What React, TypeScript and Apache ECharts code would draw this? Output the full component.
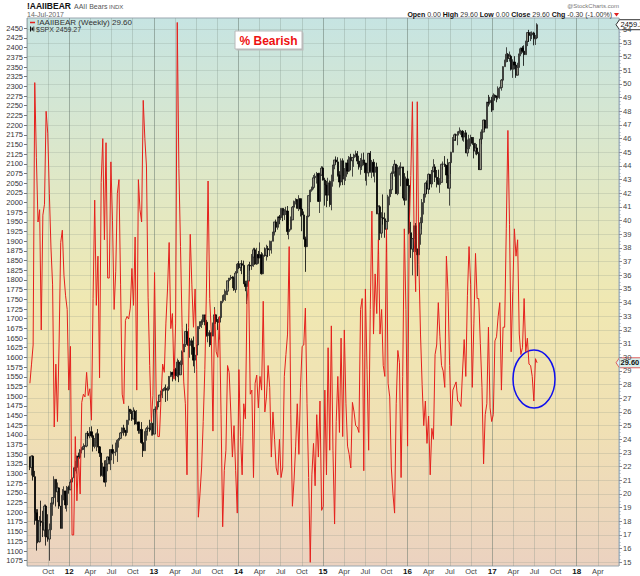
import React, { useEffect, useRef } from "react";
import * as echarts from "echarts";

// ---- data ----
// weekly observations, first week ending 2011-07-15
const startYear = 2011;
const startMonthIndex = 6;
const startDay = 15;

const aaiiBearish = [
  28.1, 29.5, 30.9, 50.1, 44.6, 39.9, 40.8, 32.0, 40.4, 41.2,
  48.0, 46.4, 42.0, 38.0, 35.3, 24.9, 29.5, 25.3, 31.0, 38.4,
  39.3, 36.0, 34.5, 33.5, 27.6, 30.8, 17.0, 17.0, 24.2, 19.5,
  22.7, 20.0, 26.7, 27.3, 27.1, 28.9, 27.2, 27.7, 25.4, 34.3,
  41.5, 33.8, 37.4, 28.5, 42.8, 46.0, 38.6, 45.7, 35.8, 35.8,
  44.3, 40.0, 33.5, 36.3, 42.0, 43.0, 35.3, 27.3, 26.6, 32.7,
  33.0, 32.8, 33.6, 36.5, 33.8, 38.8, 27.6, 43.0, 40.8, 39.9,
  48.8, 46.0, 44.0, 34.4, 29.4, 25.3, 27.2, 36.2, 27.1, 24.2,
  24.2, 27.0, 29.5, 28.9, 32.5, 35.0, 38.4, 32.1, 33.2, 28.4,
  32.5, 54.5, 43.8, 38.1, 32.2, 28.2, 26.6, 21.4, 32.2, 39.0,
  35.3, 32.2, 35.0, 29.1, 18.3, 20.0, 21.9, 25.3, 29.1, 35.0,
  42.9, 34.3, 31.8, 24.6, 33.5, 30.4, 30.0, 33.0, 25.8, 17.6,
  21.7, 23.2, 29.4, 28.9, 26.0, 22.7, 25.0, 21.7, 18.6, 29.1,
  24.2, 21.4, 26.6, 25.5, 34.1, 35.6, 27.3, 27.6, 21.2, 28.1,
  28.7, 26.3, 28.6, 27.6, 34.1, 26.0, 27.1, 29.4, 27.8, 22.7,
  26.0, 24.0, 21.9, 21.4, 24.0, 21.2, 21.9, 28.6, 30.2, 31.7,
  38.1, 25.8, 19.1, 21.0, 23.5, 26.6, 22.9, 27.8, 30.8, 30.9,
  33.6, 26.6, 21.2, 15.0, 21.4, 23.7, 20.6, 25.8, 22.7, 26.8,
  18.8, 19.1, 27.6, 21.4, 30.7, 23.2, 32.3, 23.2, 17.8, 25.3,
  28.6, 24.5, 31.4, 24.2, 32.0, 26.6, 23.5, 22.9, 21.9, 26.7,
  26.0, 25.0, 24.9, 24.5, 33.5, 34.3, 21.7, 35.0, 29.1, 23.2,
  33.5, 40.7, 31.7, 36.1, 33.2, 38.6, 31.7, 33.5, 29.4, 28.6,
  39.4, 28.1, 27.1, 21.9, 20.0, 18.6, 26.6, 30.5, 29.6, 21.2,
  28.6, 39.4, 33.5, 23.5, 39.4, 43.3, 48.7, 39.4, 34.8, 48.7,
  36.8, 31.7, 28.0, 25.0, 26.8, 23.7, 25.7, 21.4, 24.8, 24.0,
  30.2, 30.9, 34.0, 31.5, 29.4, 29.0, 27.8, 37.4, 34.8, 29.4,
  25.0, 27.6, 27.9, 28.2, 26.8, 26.7, 26.4, 29.0, 31.3, 28.6,
  34.5, 38.1, 35.3, 27.8, 32.5, 37.6, 34.3, 34.3, 31.0, 27.8,
  22.2, 25.8, 26.6, 32.2, 26.3, 25.3, 25.8, 31.2, 31.5, 33.0,
  34.0, 27.6, 32.2, 32.2, 39.4, 46.6, 39.7, 30.4, 34.8, 39.4,
  37.4, 38.6, 31.7, 30.2, 30.7, 34.3, 30.4, 31.4, 29.5, 29.4,
  28.6, 26.8, 29.9, 29.6,
];

const spxFirstOpen = 1343;

const spxClose = [
  // 2011
  1316, 1345, 1292, 1199, 1179, 1124, 1177, 1174, 1154, 1216, 1136, 1131, 1155, 1224, 1238, 1285, 1253, 1263, 1216, 1159, 1244, 1255, 1219, 1265, 1258,
  // 2012
  1278, 1289, 1315, 1316, 1345, 1342, 1361, 1366, 1370, 1371, 1404, 1397, 1408, 1398, 1370, 1378, 1403, 1369, 1353, 1295, 1317, 1278, 1325, 1343, 1335, 1362,
  1354, 1356, 1362, 1386, 1391, 1405, 1418, 1411, 1406, 1438, 1466, 1460, 1441, 1461, 1428, 1433, 1411, 1414, 1380, 1359, 1409, 1416, 1418, 1413, 1430, 1402,
  // 2013
  1466, 1472, 1486, 1503, 1513, 1518, 1520, 1516, 1518, 1551, 1561, 1556, 1569, 1553, 1588, 1555, 1582, 1614, 1633, 1667, 1650, 1631, 1643, 1626, 1593, 1606,
  1632, 1680, 1692, 1692, 1710, 1691, 1656, 1664, 1633, 1655, 1688, 1710, 1692, 1691, 1703, 1745, 1760, 1762, 1771, 1798, 1805, 1806, 1805, 1775, 1818, 1841,
  // 2014
  1832, 1842, 1838, 1790, 1783, 1797, 1838, 1836, 1859, 1878, 1841, 1866, 1857, 1865, 1816, 1864, 1863, 1881, 1878, 1878, 1900, 1924, 1950, 1936, 1963, 1961,
  1985, 1968, 1978, 1978, 1925, 1931, 1955, 1988, 2003, 2008, 1985, 2010, 1983, 1968, 1906, 1886, 1965, 2018, 2032, 2039, 2064, 2068, 2075, 2003, 2071, 2089,
  // 2015
  2058, 2045, 2019, 2051, 1995, 2055, 2097, 2110, 2105, 2071, 2053, 2108, 2061, 2067, 2102, 2081, 2117, 2108, 2116, 2123, 2126, 2107, 2092, 2095, 2110, 2102,
  2077, 2077, 2127, 2080, 2104, 2078, 2092, 1971, 1989, 1921, 1961, 1958, 1931, 1951, 2015, 2033, 2075, 2079, 2099, 2023, 2089, 2090, 2092, 2012, 2006, 2061, 2044,
  // 2016
  1922, 1880, 1907, 1940, 1880, 1865, 1918, 1948, 2000, 2022, 2050, 2035, 2073, 2048, 2081, 2092, 2065, 2057, 2047, 2052, 2099, 2099, 2096, 2071, 2037, 2103,
  2130, 2162, 2175, 2174, 2183, 2184, 2184, 2169, 2180, 2128, 2139, 2165, 2168, 2153, 2133, 2141, 2126, 2085, 2164, 2182, 2213, 2192, 2259, 2258, 2264, 2239,
  // 2017
  2277, 2275, 2271, 2295, 2297, 2316, 2351, 2367, 2383, 2372, 2378, 2344, 2363, 2355, 2329, 2349, 2384, 2399, 2391, 2382, 2416, 2439, 2432, 2433, 2438, 2423,
  2425, 2459.27,
];

const spxLow = [
  // 2011
  1309, 1295, 1282, 1168, 1101, 1120, 1122, 1164, 1136, 1137, 1114, 1124, 1075, 1156, 1191, 1220, 1215, 1226, 1209, 1158, 1158, 1231, 1209, 1202, 1248,
  // 2012
  1259, 1275, 1290, 1306, 1300, 1336, 1338, 1352, 1361, 1341, 1368, 1390, 1391, 1393, 1357, 1365, 1358, 1368, 1343, 1292, 1292, 1277, 1266, 1306, 1324, 1309,
  1350, 1325, 1346, 1330, 1367, 1389, 1397, 1398, 1396, 1398, 1426, 1454, 1436, 1440, 1426, 1427, 1403, 1403, 1377, 1343, 1359, 1385, 1398, 1408, 1398, 1398,
  // 2013
  1402, 1456, 1465, 1485, 1496, 1495, 1514, 1485, 1488, 1514, 1549, 1538, 1548, 1540, 1549, 1536, 1555, 1577, 1614, 1627, 1635, 1630, 1599, 1607, 1577, 1560,
  1605, 1632, 1673, 1676, 1684, 1683, 1654, 1639, 1627, 1633, 1655, 1689, 1687, 1671, 1646, 1700, 1740, 1748, 1746, 1761, 1780, 1800, 1779, 1772, 1767, 1819,
  // 2014
  1828, 1823, 1815, 1790, 1771, 1738, 1791, 1824, 1826, 1834, 1839, 1839, 1842, 1858, 1814, 1816, 1860, 1850, 1859, 1862, 1868, 1900, 1915, 1925, 1930, 1944,
  1955, 1952, 1955, 1968, 1916, 1905, 1928, 1955, 1990, 1995, 1984, 1978, 1964, 1926, 1905, 1821, 1886, 1962, 2001, 2028, 2034, 2060, 2049, 2002, 1973, 2069,
  // 2015
  2057, 1992, 1988, 2004, 1989, 1980, 2041, 2086, 2101, 2067, 2039, 2044, 2045, 2045, 2056, 2073, 2080, 2083, 2067, 2092, 2117, 2099, 2085, 2072, 2084, 2096,
  2056, 2044, 2067, 2077, 2063, 2067, 2052, 1970, 1867, 1903, 1909, 1943, 1909, 1872, 1951, 1993, 2022, 2059, 2067, 2022, 2019, 2070, 2042, 2011, 1993, 2005, 2043,
  // 2016
  1918, 1857, 1812, 1872, 1872, 1810, 1865, 1891, 1931, 1969, 2013, 2022, 2022, 2033, 2039, 2078, 2053, 2039, 2045, 2025, 2052, 2085, 2092, 2050, 2037, 1992,
  2074, 2131, 2159, 2159, 2148, 2178, 2175, 2160, 2157, 2128, 2119, 2139, 2145, 2149, 2114, 2124, 2122, 2084, 2084, 2151, 2183, 2187, 2192, 2248, 2253, 2234,
  // 2017
  2239, 2263, 2259, 2266, 2268, 2289, 2313, 2352, 2362, 2363, 2364, 2341, 2322, 2344, 2322, 2328, 2349, 2378, 2387, 2353, 2382, 2404, 2415, 2417, 2422, 2406,
  2407, 2425,
];

const spxHigh = [
  // 2011
  1344, 1347, 1347, 1307, 1208, 1208, 1190, 1230, 1204, 1220, 1220, 1195, 1171, 1224, 1239, 1293, 1285, 1277, 1264, 1208, 1260, 1267, 1255, 1268, 1269,
  // 2012
  1285, 1296, 1315, 1333, 1346, 1354, 1363, 1368, 1378, 1374, 1405, 1410, 1420, 1422, 1399, 1392, 1406, 1415, 1371, 1355, 1328, 1334, 1335, 1344, 1363, 1363,
  1375, 1357, 1380, 1389, 1392, 1407, 1419, 1426, 1413, 1438, 1475, 1467, 1465, 1471, 1465, 1464, 1434, 1434, 1433, 1388, 1409, 1420, 1424, 1439, 1448, 1430,
  // 2013
  1467, 1473, 1486, 1503, 1514, 1518, 1524, 1530, 1525, 1552, 1564, 1563, 1570, 1573, 1597, 1593, 1592, 1618, 1635, 1667, 1687, 1674, 1646, 1649, 1654, 1620,
  1632, 1680, 1693, 1698, 1710, 1709, 1697, 1669, 1670, 1665, 1690, 1730, 1711, 1699, 1704, 1745, 1760, 1776, 1772, 1798, 1805, 1813, 1810, 1809, 1823, 1844,
  // 2014
  1849, 1843, 1851, 1850, 1798, 1798, 1841, 1847, 1867, 1883, 1883, 1883, 1875, 1897, 1872, 1869, 1884, 1891, 1888, 1902, 1901, 1924, 1950, 1956, 1963, 1968,
  1985, 1985, 1983, 1989, 1991, 1942, 1964, 1991, 2005, 2011, 2008, 2019, 2010, 1986, 1977, 1912, 1965, 2018, 2034, 2041, 2071, 2075, 2079, 2077, 2077, 2094,
  // 2015
  2093, 2064, 2056, 2064, 2057, 2072, 2097, 2110, 2119, 2117, 2081, 2114, 2114, 2089, 2103, 2111, 2120, 2126, 2117, 2126, 2134, 2133, 2121, 2115, 2127, 2129,
  2102, 2083, 2128, 2133, 2110, 2112, 2102, 2103, 1993, 1993, 1975, 2021, 1974, 1953, 2020, 2034, 2080, 2094, 2110, 2093, 2097, 2095, 2104, 2081, 2076, 2067, 2082,
  // 2016
  2038, 1950, 1908, 1940, 1947, 1881, 1930, 1962, 2009, 2022, 2052, 2057, 2075, 2073, 2084, 2112, 2099, 2084, 2085, 2063, 2100, 2106, 2120, 2092, 2113, 2104,
  2131, 2169, 2178, 2178, 2183, 2194, 2188, 2187, 2184, 2187, 2163, 2175, 2175, 2169, 2169, 2154, 2151, 2131, 2183, 2189, 2214, 2214, 2260, 2278, 2273, 2273,
  // 2017
  2282, 2279, 2276, 2300, 2299, 2319, 2352, 2369, 2401, 2386, 2390, 2382, 2370, 2378, 2358, 2361, 2398, 2400, 2404, 2406, 2418, 2440, 2446, 2441, 2442, 2441,
  2433, 2463,
];

const quarterLabels = ["", "Apr", "Jul", "Oct"];
const xMin = 2011.5;
const xMax = 2018.5;
const spxMin = 1075;
const spxMax = 2450;
const aaiiMin = 15;
const aaiiMax = 54;

const FONT = '"Liberation Sans", Arial, sans-serif';

function weekDate(i: number) {
  return new Date(Date.UTC(startYear, startMonthIndex, startDay + 7 * i));
}
function yearFrac(d: Date) {
  const y = d.getUTCFullYear();
  const s = Date.UTC(y, 0, 1);
  const e = Date.UTC(y + 1, 0, 1);
  return y + (d.getTime() - s) / (e - s);
}

export default function App() {
  const ref = useRef<HTMLDivElement>(null);

  useEffect(() => {
    if (!ref.current) return;
    document.body.style.margin = "0";
    const chart = echarts.init(ref.current, null, { renderer: "svg" });

    const xs = aaiiBearish.map((_, i) => yearFrac(weekDate(i)));
    const lineData = aaiiBearish.map((v, i) => [xs[i], v]);
    const candleData = spxClose.map((c, i) => {
      const o = i === 0 ? spxFirstOpen : spxClose[i - 1];
      const lo = Math.min(spxLow[i], o, c);
      const hi = Math.max(spxHigh[i], o, c);
      return [xs[i], o, c, lo, hi];
    });

    const bg = new echarts.graphic.LinearGradient(0, 0, 0, 1, [
      { offset: 0, color: "rgb(198,228,226)" },
      { offset: 0.3, color: "rgb(224,232,198)" },
      { offset: 0.52, color: "rgb(240,232,178)" },
      { offset: 0.75, color: "rgb(240,224,180)" },
      { offset: 1, color: "rgb(235,210,192)" },
    ]);

    const hiddenX = (gridIndex: number) => ({
      type: "value",
      gridIndex,
      min: xMin,
      max: xMax,
      show: false,
    });

    const option: any = {
      animation: false,
      backgroundColor: "#ffffff",
      textStyle: { fontFamily: FONT },
      grid: [
        {
          left: 27, right: 21, top: 18, bottom: 10,
          show: true, backgroundColor: bg, borderColor: "#9aa7b0", borderWidth: 1,
        },
        { left: 27, right: 21, top: 28.3, bottom: 15.3 },
        { left: 27, right: 21, top: 29.3, bottom: 13.7 },
      ],
      xAxis: [
        {
          type: "value",
          gridIndex: 0,
          min: xMin,
          max: xMax,
          interval: 0.25,
          axisLine: { show: false },
          axisTick: { show: false },
          axisLabel: {
            showMinLabel: false,
            showMaxLabel: false,
            margin: 1,
            fontSize: 7.5,
            color: "#444",
            fontFamily: FONT,
            formatter: (v: number) => {
              const y = Math.floor(v + 1e-6);
              const q = Math.round((v - y) * 4) % 4;
              if (q === 0) return "{y|" + String(y).slice(2) + "}";
              return quarterLabels[q];
            },
            rich: { y: { fontWeight: "bold", color: "#111", fontSize: 8, fontFamily: FONT } },
          },
          splitLine: {
            show: true,
            lineStyle: {
              width: 1,
              color: [
                "rgba(120,135,125,0.28)",
                "rgba(120,135,125,0.28)",
                "rgba(100,115,105,0.5)",
                "rgba(120,135,125,0.28)",
              ],
            },
          },
        },
        hiddenX(1),
        hiddenX(2),
      ],
      yAxis: [
        { type: "value", gridIndex: 0, min: 0, max: 1, show: false },
        {
          type: "value",
          gridIndex: 1,
          position: "left",
          min: spxMin,
          max: spxMax,
          interval: 25,
          axisLine: { show: false },
          axisTick: { show: true, length: 3, lineStyle: { color: "#777" } },
          axisLabel: {
            fontSize: 7.5, color: "#333", margin: 4, fontFamily: FONT,
            formatter: (v: number) => String(v),
          },
          splitLine: { show: false },
        },
        {
          type: "value",
          gridIndex: 2,
          position: "right",
          min: aaiiMin,
          max: aaiiMax,
          interval: 1,
          axisLine: { show: true, lineStyle: { color: "#a9bcc8" } },
          axisTick: { show: true, length: 3, lineStyle: { color: "#889" } },
          minorTick: { show: true, splitNumber: 4, length: 1.5, lineStyle: { color: "#9ab" } },
          axisLabel: {
            fontSize: 7.5, color: "#444", margin: 4, fontFamily: FONT,
            formatter: (v: number) => String(v),
          },
          splitLine: { show: true, lineStyle: { color: "rgba(120,135,125,0.2)", width: 1 } },
        },
      ],
      series: [
        {
          type: "candlestick",
          name: "$SPX",
          xAxisIndex: 1,
          yAxisIndex: 1,
          clip: false,
          barWidth: 1.8,
          encode: { x: 0, y: [1, 2, 3, 4] },
          data: candleData,
          z: 2,
          itemStyle: {
            color: "#8f8f80",
            color0: "#000000",
            borderColor: "#222222",
            borderColor0: "#000000",
            borderWidth: 0.8,
          },
        },
        {
          type: "line",
          name: "!AAIIBEAR",
          xAxisIndex: 2,
          yAxisIndex: 2,
          clip: false,
          data: lineData,
          showSymbol: false,
          symbol: "none",
          z: 3,
          lineStyle: { color: "#e5201c", width: 1 },
        },
      ],
    };

    chart.setOption(option);

    const lastAaii = aaiiBearish[aaiiBearish.length - 1];
    const prevAaii = aaiiBearish[aaiiBearish.length - 2];
    const lastSpx = spxClose[spxClose.length - 1];
    const chg = lastAaii - prevAaii;
    const chgPct = (chg / prevAaii) * 100;
    const yA = chart.convertToPixel({ yAxisIndex: 2 }, lastAaii) as number;
    const yS = chart.convertToPixel({ yAxisIndex: 1 }, lastSpx) as number;

    const badge = (y: number, text: string, stroke: string, fill: string, bold: boolean) => ({
      type: "group",
      z: 10,
      children: [
        {
          type: "polygon",
          shape: { points: [[616, y], [619.5, y - 5], [642, y - 5], [642, y + 5], [619.5, y + 5]] },
          style: { fill, stroke, lineWidth: 1 },
        },
        {
          type: "text",
          x: 620.5,
          y: y,
          style: {
            text, fill: "#111", font: (bold ? "bold " : "") + "7.5px " + FONT,
            textAlign: "left", textVerticalAlign: "middle",
          },
        },
      ],
    });

    chart.setOption({
      graphic: [
        { type: "text", x: 27, y: 6, style: { text: "!AAIIBEAR", font: "bold 8.5px " + FONT, fill: "#111", textVerticalAlign: "middle" } },
        { type: "text", x: 74, y: 6, style: { text: "AAII Bears", font: "7px " + FONT, fill: "#555", textVerticalAlign: "middle" } },
        { type: "text", x: 109, y: 6.5, style: { text: "INDX", font: "6px " + FONT, fill: "#555", textVerticalAlign: "middle" } },
        { type: "text", x: 27, y: 14.5, style: { text: "14-Jul-2017", font: "7px " + FONT, fill: "#666", textVerticalAlign: "middle" } },
        { type: "text", x: 619, y: 5.5, style: { text: "@StockCharts.com", font: "6px " + FONT, fill: "#777", textAlign: "right", textVerticalAlign: "middle" } },
        {
          type: "text", x: 612, y: 14.5,
          style: {
            text:
              "{b|Open} " + (0).toFixed(2) + " {b|High} " + lastAaii.toFixed(2) + " {b|Low} " + (0).toFixed(2) +
              " {b|Close} " + lastAaii.toFixed(2) + " {b|Chg} " + chg.toFixed(2) + " (" + chgPct.toFixed(2) + "%)",
            font: "7px " + FONT, fill: "#333", textAlign: "right", textVerticalAlign: "middle",
            rich: { b: { fontWeight: "bold", fontSize: 7, fontFamily: FONT, fill: "#111" } },
          },
        },
        { type: "polygon", shape: { points: [[614, 13], [619, 13], [616.5, 16.5]] }, style: { fill: "#e02020" } },
        // legend
        { type: "line", shape: { x1: 30, y1: 22.5, x2: 35, y2: 22.5 }, style: { stroke: "#e5201c", lineWidth: 1.5 } },
        { type: "text", x: 37, y: 22.5, style: { text: "!AAIIBEAR (Weekly) " + lastAaii.toFixed(2), font: "8px " + FONT, fill: "#333", textVerticalAlign: "middle" } },
        { type: "line", shape: { x1: 30.5, y1: 26.5, x2: 30.5, y2: 31.5 }, style: { stroke: "#111", lineWidth: 1 } },
        { type: "rect", shape: { x: 31.5, y: 27.5, width: 1.5, height: 3 }, style: { fill: "#111" } },
        { type: "line", shape: { x1: 33.8, y1: 26.5, x2: 33.8, y2: 31.5 }, style: { stroke: "#111", lineWidth: 0.8 } },
        { type: "text", x: 36, y: 29.2, style: { text: "$SPX " + lastSpx.toFixed(2), font: "7px " + FONT, fill: "#333", textVerticalAlign: "middle" } },
        // title box
        { type: "rect", shape: { x: 236.5, y: 32.5, width: 67, height: 18 }, style: { fill: "#bbbbbb" } },
        { type: "rect", shape: { x: 235, y: 31, width: 67, height: 18 }, style: { fill: "#ffffff", stroke: "#b8b8b8", lineWidth: 1 } },
        { type: "text", x: 268.5, y: 40.5, style: { text: "% Bearish", font: "bold 12px " + FONT, fill: "#ee1111", textAlign: "center", textVerticalAlign: "middle" } },
        // highlight ellipse
        { type: "ellipse", shape: { cx: 534, cy: 379, rx: 21, ry: 29 }, style: { fill: "none", stroke: "#1010ee", lineWidth: 1.5 } },
        badge(yS, lastSpx.toFixed(2), "#333", "#ffffff", false),
        badge(yA, lastAaii.toFixed(2), "#e06060", "#d9f0ee", true),
      ],
    });

    return () => chart.dispose();
  }, []);

  return (
    <div
      ref={ref}
      style={{ position: "fixed", left: 0, top: 0, width: 640, height: 576 }}
    />
  );
}
